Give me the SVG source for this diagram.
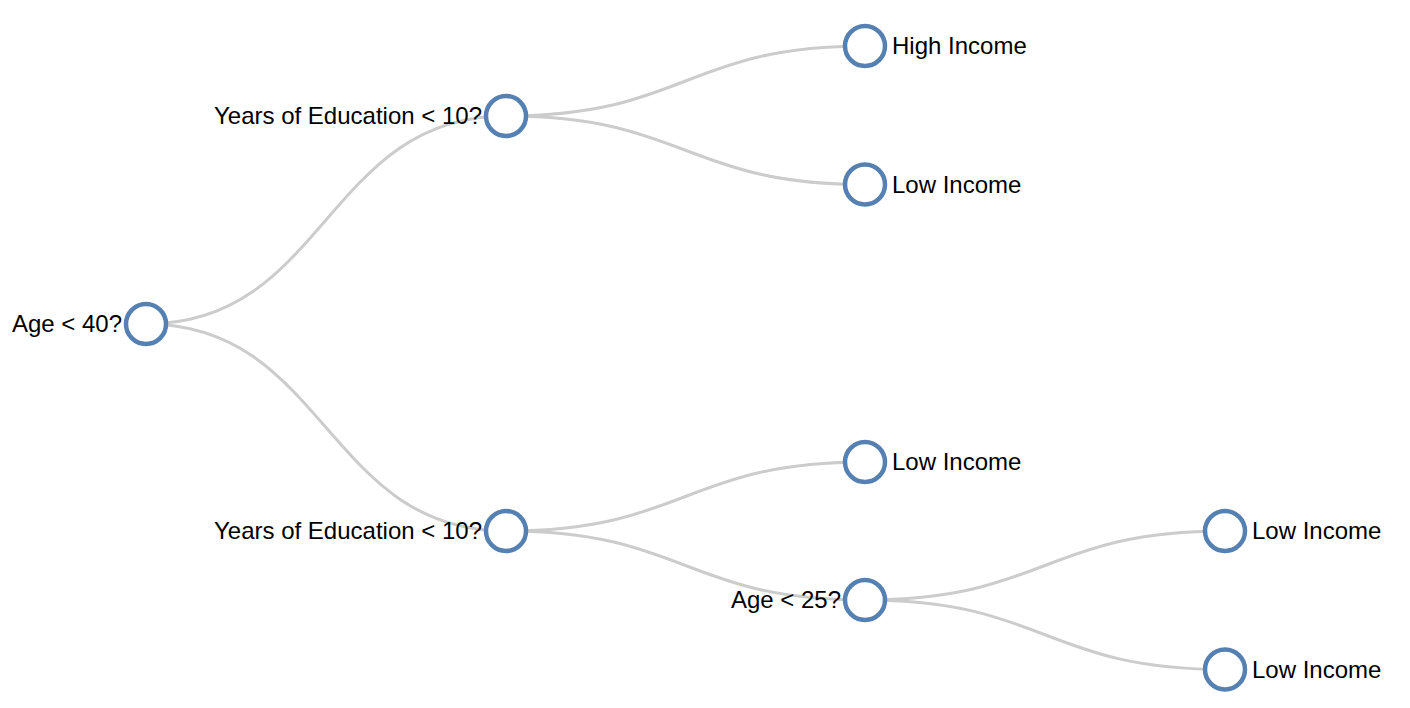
<svg xmlns="http://www.w3.org/2000/svg" width="1410" height="708" viewBox="0 0 1410 708">
<style>
.link{fill:none;stroke:#cccccc;stroke-width:3}
.node circle{fill:#ffffff;stroke:#5480b2;stroke-width:4.5}
.node text{font-family:"Liberation Sans",Arial,Helvetica,sans-serif;font-size:24px;fill:#000000}
.l{text-anchor:end}
.r{text-anchor:start}
</style>
<rect width="1410" height="708" fill="#ffffff"/>
<g id="links">
<path class="link" d="M146,324C326,324 326,116 506,116"/>
<path class="link" d="M146,324C326,324 326,531 506,531"/>
<path class="link" d="M506,116C685.5,116 685.5,46 865,46"/>
<path class="link" d="M506,116C685.5,116 685.5,184.5 865,184.5"/>
<path class="link" d="M506,531C685.5,531 685.5,462 865,462"/>
<path class="link" d="M506,531C685.5,531 685.5,600 865,600"/>
<path class="link" d="M865,600C1045,600 1045,531 1225,531"/>
<path class="link" d="M865,600C1045,600 1045,669.5 1225,669.5"/>
</g>
<g id="node-root" class="node"><circle cx="146" cy="324" r="20"/><text class="l" x="122" y="324" dy="0.35em">Age &lt; 40?</text></g>
<g id="node-edu1" class="node"><circle cx="506" cy="116" r="20"/><text class="l" x="482" y="116" dy="0.35em">Years of Education &lt; 10?</text></g>
<g id="node-edu2" class="node"><circle cx="506" cy="531" r="20"/><text class="l" x="482" y="531" dy="0.35em">Years of Education &lt; 10?</text></g>
<g id="node-high1" class="node"><circle cx="865" cy="46" r="20"/><text class="r" x="892" y="46" dy="0.35em">High Income</text></g>
<g id="node-low1" class="node"><circle cx="865" cy="184.5" r="20"/><text class="r" x="892" y="184.5" dy="0.35em">Low Income</text></g>
<g id="node-low2" class="node"><circle cx="865" cy="462" r="20"/><text class="r" x="892" y="462" dy="0.35em">Low Income</text></g>
<g id="node-age25" class="node"><circle cx="865" cy="600" r="20"/><text class="l" x="841" y="600" dy="0.35em">Age &lt; 25?</text></g>
<g id="node-low3" class="node"><circle cx="1225" cy="531" r="20"/><text class="r" x="1252" y="531" dy="0.35em">Low Income</text></g>
<g id="node-low4" class="node"><circle cx="1225" cy="669.5" r="20"/><text class="r" x="1252" y="669.5" dy="0.35em">Low Income</text></g>
</svg>
